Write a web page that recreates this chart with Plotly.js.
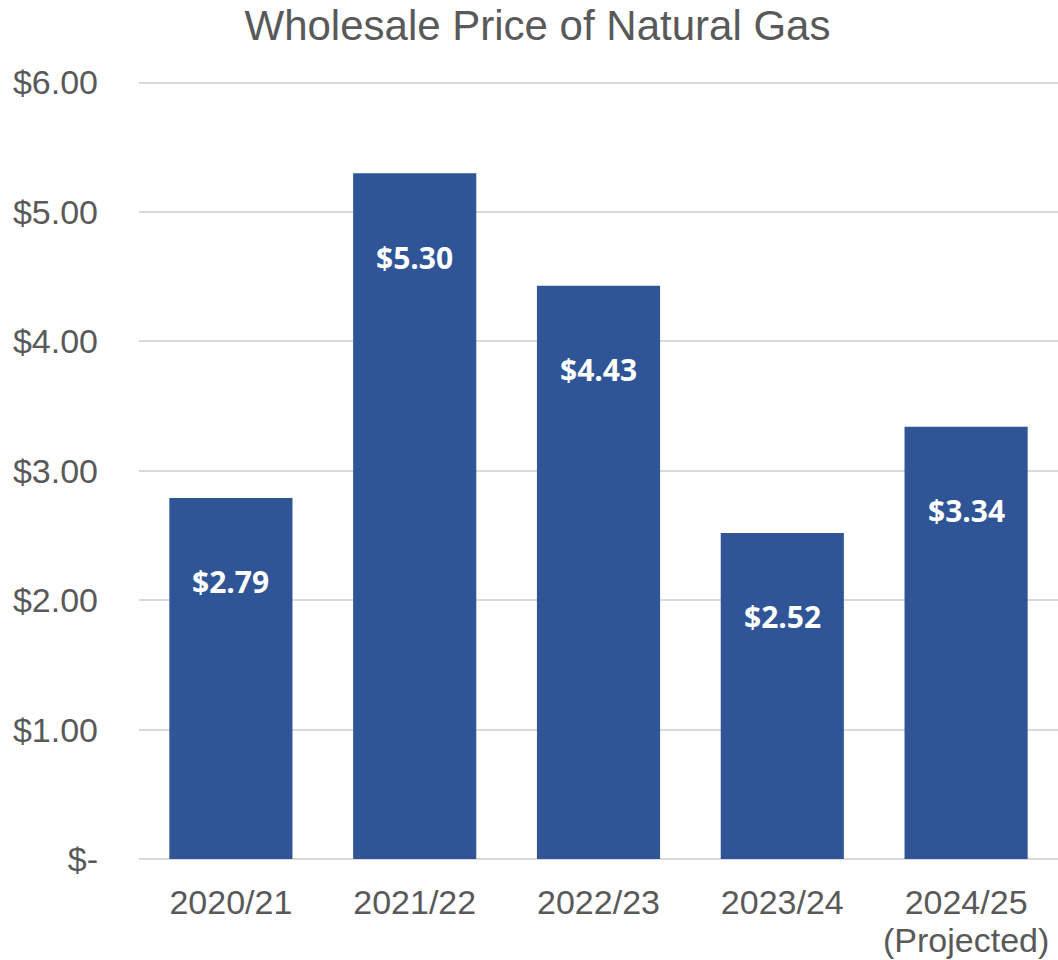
<!DOCTYPE html>
<html>
<head>
<meta charset="utf-8">
<script src="https://cdn.plot.ly/plotly-3.0.1.min.js"></script>
<style>html,body{margin:0;padding:0;background:#fff;}#chart{width:1058px;height:960px;}</style>
</head>
<body>
<div id="chart"></div>
<script>
const categories = ["2020/21", "2021/22", "2022/23", "2023/24", "2024/25"];
const categoryNotes = ["", "", "", "", "(Projected)"];
const prices = [2.79, 5.30, 4.43, 2.52, 3.34];
const priceLabels = ["$2.79", "$5.30", "$4.43", "$2.52", "$3.34"];
const tickValues = [0, 1, 2, 3, 4, 5, 6];
const tickLabels = ["$-", "$1.00", "$2.00", "$3.00", "$4.00", "$5.00", "$6.00"];

const trace = {
  type: "bar",
  x: categories,
  y: prices,
  marker: {color: "#2F5597"},
  hoverinfo: "skip"
};

const annotations = categories.map((c, i) => ({
  x: c, y: prices[i], xref: "x", yref: "y",
  text: priceLabels[i], showarrow: false,
  yanchor: "middle", yshift: -84,
  font: {family: "Open Sans, sans-serif", size: 30, color: "#ffffff", weight: "bold"}
}));

categories.forEach((c, i) => {
  if (categoryNotes[i]) {
    annotations.push({
      x: c, y: 0, xref: "x", yref: "y",
      text: categoryNotes[i], showarrow: false,
      yanchor: "middle", yshift: -81,
      font: {family: "Liberation Sans, Arial, sans-serif", size: 34, color: "#595959"}
    });
  }
});

const layout = {
  width: 1058, height: 960,
  margin: {l: 139, r: 0, t: 80, b: 101},
  paper_bgcolor: "#ffffff", plot_bgcolor: "#ffffff",
  showlegend: false,
  bargap: 0.33,
  title: {
    text: "Wholesale Price of Natural Gas",
    x: 0.508, xanchor: "center",
    y: 0.974, yanchor: "middle", yref: "container",
    font: {family: "Liberation Sans, Arial, sans-serif", size: 42, color: "#595959"}
  },
  xaxis: {
    type: "category",
    showgrid: false, zeroline: false, showline: false,
    ticks: "",
    ticklabelstandoff: 20,
    tickfont: {family: "Liberation Sans, Arial, sans-serif", size: 34, color: "#595959"}
  },
  yaxis: {
    range: [0, 6.02],
    tickvals: tickValues, ticktext: tickLabels,
    showgrid: true, gridcolor: "#d9d9d9", gridwidth: 2,
    zeroline: true, zerolinecolor: "#d9d9d9", zerolinewidth: 2,
    showline: false, ticks: "",
    ticklabelstandoff: 40,
    tickfont: {family: "Liberation Sans, Arial, sans-serif", size: 34, color: "#595959"}
  },
  annotations: annotations
};

Plotly.newPlot("chart", [trace], layout, {staticPlot: true, displayModeBar: false});
</script>
</body>
</html>
